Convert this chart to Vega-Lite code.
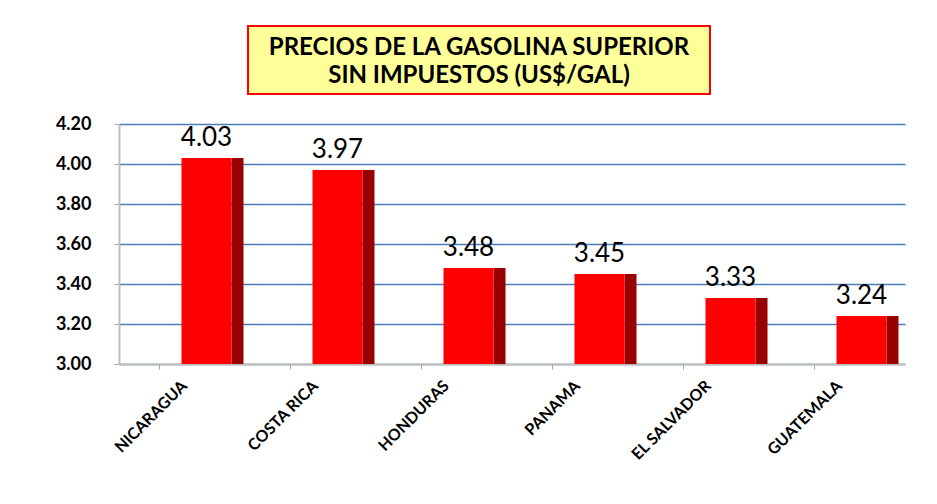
{
  "$schema": "https://vega.github.io/schema/vega-lite/v6.json",
  "background": "white",
  "padding": {"left": 55, "top": 25, "right": 20, "bottom": 5},
  "config": {"font": "Lato", "view": {"stroke": null}, "axisY": {"gridColor": "#4A7EBB", "gridWidth": 1.5, "gridOpacity": 1}},
  "spacing": 20,
  "vconcat": [
    {
      "spacing": 0,
      "hconcat": [
        {
          "width": 128,
          "height": 68,
          "data": {"values": []},
          "mark": "text",
          "encoding": {}
        },
        {
          "width": 462,
          "height": 68,
          "view": {"fill": "#FFFF99", "stroke": "#FF0000", "strokeWidth": 2},
          "data": {"values": [
            {"line": 1, "text": "PRECIOS DE LA GASOLINA SUPERIOR"},
            {"line": 2, "text": "SIN IMPUESTOS  (US$/GAL)"}
          ]},
          "mark": {"type": "text", "fontSize": 24, "fontWeight": "bold", "color": "black", "font": "Lato"},
          "encoding": {
            "y": {"field": "line", "type": "quantitative", "axis": null, "scale": {"domain": [0.21, 2.64], "reverse": true, "zero": false, "nice": false}},
            "text": {"field": "text"}
          }
        }
      ]
    },
    {
      "width": 786,
      "height": 240,
      "data": {"values": [
        {"country": "NICARAGUA", "price": 4.03},
        {"country": "COSTA RICA", "price": 3.97},
        {"country": "HONDURAS", "price": 3.48},
        {"country": "PANAMA", "price": 3.45},
        {"country": "EL SALVADOR", "price": 3.33},
        {"country": "GUATEMALA", "price": 3.24}
      ]},
      "encoding": {
        "x": {"field": "country", "type": "nominal", "sort": null, "title": null,
          "scale": {"paddingInner": 0.62, "paddingOuter": 0.31},
          "axis": {"labelAngle": -45, "labelAlign": "right", "labelBaseline": "middle", "labelFontSize": 16, "labelFontWeight": "bold", "labelColor": "black", "labelPadding": 14, "labelFont": "Lato", "domainColor": "#BFBFBF", "domainWidth": 2, "tickColor": "#A6A6A6", "bandPosition": 0, "tickSize": 5}},
        "y": {"field": "price", "type": "quantitative", "title": null,
          "scale": {"domain": [3, 4.2], "zero": false, "nice": false},
          "axis": {"values": [3, 3.2, 3.4, 3.6, 3.8, 4.0, 4.2], "format": ".2f", "labelFontSize": 18, "labelFontWeight": "bold", "labelColor": "black", "labelFont": "Lato", "labelPadding": 23, "domainColor": "#BFBFBF", "domainWidth": 2, "tickColor": "#A6A6A6", "tickSize": 5, "gridColor": "#4A7EBB", "gridWidth": 1.5}}
      },
      "layer": [
        {"mark": {"type": "bar", "color": "#990000", "width": 12, "xOffset": 53, "clip": true}, "encoding": {"y2": {"datum": 3}}},
        {"mark": {"type": "bar", "color": "#FF0000", "width": 50, "xOffset": 22, "clip": true}, "encoding": {"y2": {"datum": 3}}},
        {"mark": {"type": "text", "fontSize": 26, "dy": -20, "xOffset": 22, "color": "black", "font": "Lato"}, "encoding": {"text": {"field": "price", "format": ".2f"}}}
      ]
    }
  ]
}
